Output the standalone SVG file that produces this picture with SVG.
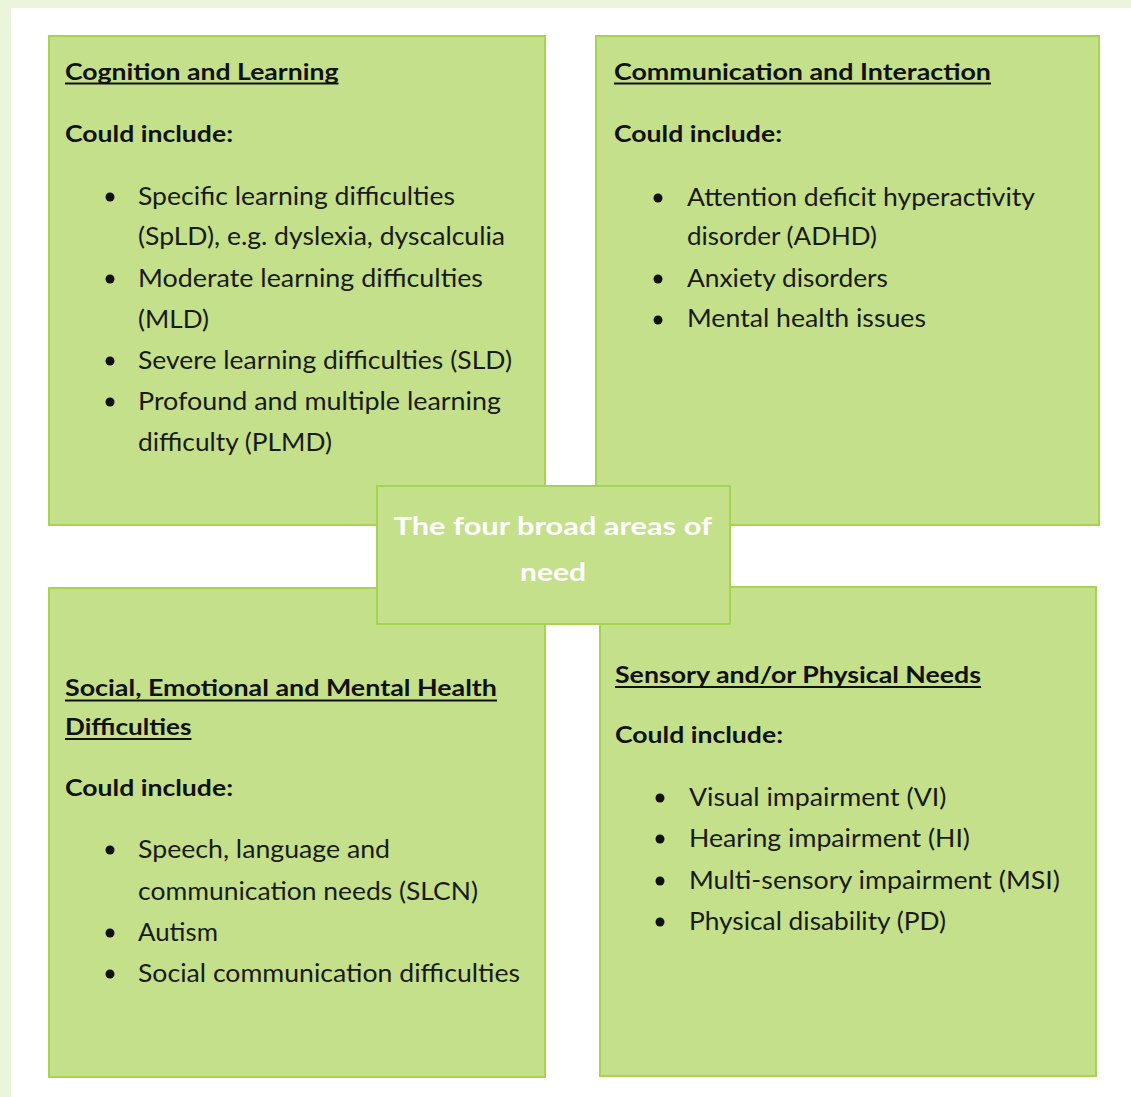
<svg xmlns="http://www.w3.org/2000/svg" width="1131" height="1097" viewBox="0 0 1131 1097">
<style>
.box{fill:#c4e08a;stroke:#a6d350;stroke-width:2}
.t{font-family:Lato,"Open Sans","Liberation Sans",sans-serif;font-size:25px;fill:#1a1a1a}
.b{font-family:Lato,"Open Sans","Liberation Sans",sans-serif;font-size:23.5px;font-weight:bold;fill:#111}
.c{font-family:Lato,"Open Sans","Liberation Sans",sans-serif;font-size:25.5px;font-weight:bold;fill:#ffffff}
.u{stroke:#111;stroke-width:2}
.dot{fill:#111}
</style>
<rect x="0" y="0" width="1131" height="1097" fill="#ffffff"/>
<rect x="0" y="0" width="1131" height="8" fill="#ebf5dc"/>
<rect x="0" y="0" width="11" height="1097" fill="#ebf5dc"/>
<g id="connectors"/>
<g id="cognition">
<rect class="box" x="49" y="36" width="496" height="489"/>
<text class="b" x="65" y="80" textLength="273.5" lengthAdjust="spacingAndGlyphs">Cognition and Learning</text>
<line class="u" x1="65" y1="83.5" x2="338.5" y2="83.5"/>
<text class="b" x="65" y="142" textLength="168" lengthAdjust="spacingAndGlyphs">Could include:</text>
<circle class="dot" cx="110" cy="197" r="4.5"/>
<circle class="dot" cx="110" cy="279" r="4.5"/>
<circle class="dot" cx="110" cy="361" r="4.5"/>
<circle class="dot" cx="110" cy="402" r="4.5"/>
<text class="t" x="138" y="205" textLength="317" lengthAdjust="spacingAndGlyphs">Specific learning difficulties</text>
<text class="t" x="138" y="245" textLength="367" lengthAdjust="spacingAndGlyphs">(SpLD), e.g. dyslexia, dyscalculia</text>
<text class="t" x="138" y="287" textLength="345" lengthAdjust="spacingAndGlyphs">Moderate learning difficulties</text>
<text class="t" x="138" y="328" textLength="71" lengthAdjust="spacingAndGlyphs">(MLD)</text>
<text class="t" x="138" y="369" textLength="374" lengthAdjust="spacingAndGlyphs">Severe learning difficulties (SLD)</text>
<text class="t" x="138" y="410" textLength="363" lengthAdjust="spacingAndGlyphs">Profound and multiple learning</text>
<text class="t" x="138" y="451" textLength="194" lengthAdjust="spacingAndGlyphs">difficulty (PLMD)</text>
</g>
<g id="communication">
<rect class="box" x="596" y="36" width="503" height="489"/>
<text class="b" x="614" y="80" textLength="377" lengthAdjust="spacingAndGlyphs">Communication and Interaction</text>
<line class="u" x1="614" y1="83.5" x2="991" y2="83.5"/>
<text class="b" x="614" y="142" textLength="168" lengthAdjust="spacingAndGlyphs">Could include:</text>
<circle class="dot" cx="658" cy="198" r="4.5"/>
<circle class="dot" cx="658" cy="279" r="4.5"/>
<circle class="dot" cx="658" cy="320" r="4.5"/>
<text class="t" x="687" y="206" textLength="348" lengthAdjust="spacingAndGlyphs">Attention deficit hyperactivity</text>
<text class="t" x="687" y="245" textLength="190" lengthAdjust="spacingAndGlyphs">disorder (ADHD)</text>
<text class="t" x="687" y="287" textLength="201" lengthAdjust="spacingAndGlyphs">Anxiety disorders</text>
<text class="t" x="687" y="327" textLength="239" lengthAdjust="spacingAndGlyphs">Mental health issues</text>
</g>
<g id="semh">
<rect class="box" x="49" y="588" width="496" height="489"/>
<text class="b" x="65" y="696" textLength="432" lengthAdjust="spacingAndGlyphs">Social, Emotional and Mental Health</text>
<line class="u" x1="65" y1="700.5" x2="497" y2="700.5"/>
<text class="b" x="65" y="735" textLength="126.5" lengthAdjust="spacingAndGlyphs">Difficulties</text>
<line class="u" x1="65" y1="739" x2="191.5" y2="739"/>
<text class="b" x="65" y="796" textLength="168" lengthAdjust="spacingAndGlyphs">Could include:</text>
<circle class="dot" cx="110" cy="850" r="4.5"/>
<circle class="dot" cx="110" cy="933" r="4.5"/>
<circle class="dot" cx="110" cy="974" r="4.5"/>
<text class="t" x="138" y="858" textLength="252" lengthAdjust="spacingAndGlyphs">Speech, language and</text>
<text class="t" x="138" y="900" textLength="340" lengthAdjust="spacingAndGlyphs">communication needs (SLCN)</text>
<text class="t" x="138" y="941" textLength="80" lengthAdjust="spacingAndGlyphs">Autism</text>
<text class="t" x="138" y="982" textLength="382" lengthAdjust="spacingAndGlyphs">Social communication difficulties</text>
</g>
<g id="sensory">
<rect class="box" x="600" y="587" width="496" height="489"/>
<text class="b" x="615" y="683" textLength="366" lengthAdjust="spacingAndGlyphs">Sensory and/or Physical Needs</text>
<line class="u" x1="615" y1="687" x2="981" y2="687"/>
<text class="b" x="615" y="743" textLength="168" lengthAdjust="spacingAndGlyphs">Could include:</text>
<circle class="dot" cx="660" cy="798" r="4.5"/>
<circle class="dot" cx="660" cy="839" r="4.5"/>
<circle class="dot" cx="660" cy="881" r="4.5"/>
<circle class="dot" cx="660" cy="922" r="4.5"/>
<text class="t" x="689" y="806" textLength="257.5" lengthAdjust="spacingAndGlyphs">Visual impairment (VI)</text>
<text class="t" x="689" y="847" textLength="281" lengthAdjust="spacingAndGlyphs">Hearing impairment (HI)</text>
<text class="t" x="689" y="889" textLength="371" lengthAdjust="spacingAndGlyphs">Multi-sensory impairment (MSI)</text>
<text class="t" x="689" y="930" textLength="257" lengthAdjust="spacingAndGlyphs">Physical disability (PD)</text>
</g>
<g id="center">
<rect class="box" x="377" y="486" width="353" height="138"/>
<text class="c" x="393.5" y="535" textLength="318.5" lengthAdjust="spacingAndGlyphs">The four broad areas of</text>
<text class="c" x="520" y="581" textLength="66" lengthAdjust="spacingAndGlyphs">need</text>
</g>
</svg>
